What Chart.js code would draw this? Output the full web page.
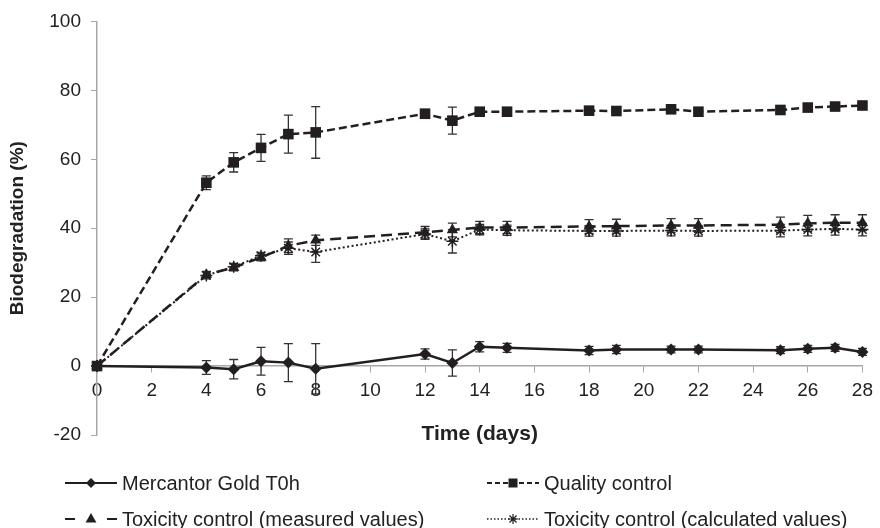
<!DOCTYPE html>
<html>
<head>
<meta charset="utf-8">
<script src="https://cdn.jsdelivr.net/npm/chart.js@4.4.0/dist/chart.umd.min.js"></script>
<style>
  html, body { margin: 0; padding: 0; background: #fff; }
  #wrap { width: 880px; height: 528px; }
</style>
</head>
<body>
<div id="wrap"><canvas id="biodegChart"></canvas></div>
<script>
// sampling days
const days = [0, 4, 5, 6, 7, 8, 12, 13, 14, 15, 18, 19, 21, 22, 25, 26, 27, 28];

// biodegradation (%) per series
const mercantor = [0, -0.4, -0.9, 1.4, 1.0, -0.8, 3.5, 0.9, 5.6, 5.3, 4.5, 4.8, 4.8, 4.8, 4.6, 5.0, 5.3, 4.1];
const qualityControl = [0, 53.2, 59.1, 63.3, 67.3, 67.8, 73.2, 71.2, 73.8, 73.8, 74.1, 74.0, 74.5, 73.8, 74.3, 75.0, 75.3, 75.6];
const toxMeasured = [0, 26.5, 28.6, 31.5, 34.9, 36.5, 38.8, 39.5, 40.2, 40.2, 40.5, 40.6, 40.8, 40.8, 41.0, 41.4, 41.6, 41.6];
const toxCalculated = [0, 26.3, 28.8, 32.0, 34.2, 33.1, 38.3, 36.2, 39.6, 39.4, 39.2, 39.2, 39.3, 39.2, 39.3, 39.6, 39.8, 39.6];

// error bars (+/-)
const mercantorErr = [0, 2, 2.8, 4, 5.5, 7.3, 1.5, 3.8, 1.5, 1.3, 1.2, 1.2, 1.0, 1.0, 1.0, 1.0, 1.0, 1.0];
const qualityErr = [0, 2, 2.8, 3.9, 5.5, 7.5, 1.3, 3.9, 1.2, 1.2, 1.0, 1.0, 0.8, 0.8, 0.8, 0.8, 0.8, 0.8];
const measuredErr = [0, 1, 1, 1, 2, 1.5, 1.7, 2, 1.8, 1.8, 2, 2, 2, 2, 2.2, 2.3, 2.3, 2.3];
const calculatedErr = [0, 1, 1, 1, 1.8, 3, 1.5, 3.4, 1.5, 1.5, 1.5, 1.5, 1.5, 1.5, 1.8, 1.8, 1.8, 1.8];

const seriesNames = ['Mercantor Gold T0h', 'Quality control', 'Toxicity control (measured values)', 'Toxicity control (calculated values)'];
const yTicks = [-20, 0, 20, 40, 60, 80, 100];

const INK = '#231f20';
const AXIS = '#a6a6a6';
const FONT = "'Liberation Sans', Arial, sans-serif";

function toPoints(values) {
    return days.map((d, i) => ({ x: d, y: values[i] }));
}

// draws the +/- bars under the markers
const errorBars = {
    id: 'errorBars',
    beforeDatasetsDraw(chart) {
        const ctx = chart.ctx;
        const xs = chart.scales.x, ys = chart.scales.y;
        chart.data.datasets.forEach((ds) => {
            if (!ds.errors) return;
            ctx.save();
            ctx.strokeStyle = '#333';
            ctx.lineWidth = 1.3;
            ds.data.forEach((p, i) => {
                const e = ds.errors[i];
                if (!e) return;
                const x = xs.getPixelForValue(p.x);
                const y1 = ys.getPixelForValue(p.y + e);
                const y2 = ys.getPixelForValue(p.y - e);
                ctx.beginPath();
                ctx.moveTo(x, y1); ctx.lineTo(x, y2);
                ctx.moveTo(x - 4.5, y1); ctx.lineTo(x + 4.5, y1);
                ctx.moveTo(x - 4.5, y2); ctx.lineTo(x + 4.5, y2);
                ctx.stroke();
            });
            ctx.restore();
        });
    }
};

function drawMarker(ctx, style, x, y, r) {
    ctx.beginPath();
    if (style === 'rectRot') {
        ctx.moveTo(x, y - r); ctx.lineTo(x + r, y); ctx.lineTo(x, y + r); ctx.lineTo(x - r, y);
        ctx.closePath(); ctx.fill();
    } else if (style === 'rect') {
        ctx.fillRect(x - r, y - r, 2 * r, 2 * r);
    } else if (style === 'triangle') {
        ctx.moveTo(x, y - r); ctx.lineTo(x + r * 0.9, y + r * 0.6); ctx.lineTo(x - r * 0.9, y + r * 0.6);
        ctx.closePath(); ctx.fill();
    } else {
        ctx.lineWidth = 1.2;
        ctx.setLineDash([]);
        for (let k = 0; k < 4; k++) {
            const a = k * Math.PI / 4;
            ctx.moveTo(x - r * Math.cos(a), y - r * Math.sin(a));
            ctx.lineTo(x + r * Math.cos(a), y + r * Math.sin(a));
        }
        ctx.stroke();
    }
}

// legend in two columns below the plot, line sample with marker
const bottomLegend = {
    id: 'bottomLegend',
    afterDraw(chart) {
        const ctx = chart.ctx;
        const items = [
            { col: 0, row: 0, style: 'rectRot', r: 5, dash: [], w: 2 },
            { col: 1, row: 0, style: 'rect', r: 4.5, dash: [5, 3], w: 2 },
            { col: 0, row: 1, style: 'triangle', r: 6, dash: 'split', w: 2 },
            { col: 1, row: 1, style: 'star', r: 5, dash: [1.5, 2], w: 1.5 }
        ];
        const colX = [65, 487];
        const rowY = [483, 519];
        ctx.save();
        items.forEach((it, i) => {
            const x0 = colX[it.col], x1 = x0 + 52, y = rowY[it.row];
            ctx.strokeStyle = INK;
            ctx.fillStyle = INK;
            ctx.lineWidth = it.w;
            ctx.beginPath();
            if (it.dash === 'split') {
                ctx.setLineDash([]);
                ctx.moveTo(x0, y); ctx.lineTo(x0 + 10, y);
                ctx.moveTo(x1 - 10, y); ctx.lineTo(x1, y);
            } else {
                ctx.setLineDash(it.dash);
                ctx.moveTo(x0, y); ctx.lineTo(x1, y);
            }
            ctx.stroke();
            ctx.setLineDash([]);
            drawMarker(ctx, it.style, (x0 + x1) / 2, y, it.r);
            ctx.fillStyle = '#222';
            ctx.font = '20px ' + FONT;
            ctx.textBaseline = 'middle';
            ctx.textAlign = 'left';
            ctx.fillText(seriesNames[i], x1 + 5, y + 1);
        });
        ctx.restore();
    }
};

const ctx = document.getElementById('biodegChart').getContext('2d');

new Chart(ctx, {
    type: 'line',
    data: {
        datasets: [
            {
                label: seriesNames[0],
                data: toPoints(mercantor),
                errors: mercantorErr,
                borderColor: INK,
                backgroundColor: INK,
                borderWidth: 2.5,
                pointStyle: 'rectRot',
                pointRadius: 6,
                pointBorderWidth: 0,
                clip: false
            },
            {
                label: seriesNames[1],
                data: toPoints(qualityControl),
                errors: qualityErr,
                borderColor: INK,
                backgroundColor: INK,
                borderWidth: 2.5,
                borderDash: [8, 4],
                pointStyle: 'rect',
                pointRadius: 7.5,
                pointBorderWidth: 0,
                clip: false
            },
            {
                label: seriesNames[2],
                data: toPoints(toxMeasured),
                errors: measuredErr,
                borderColor: INK,
                backgroundColor: INK,
                borderWidth: 2.5,
                borderDash: [11, 6],
                pointStyle: 'triangle',
                pointRadius: 6.5,
                pointBorderWidth: 0,
                clip: false
            },
            {
                label: seriesNames[3],
                data: toPoints(toxCalculated),
                errors: calculatedErr,
                borderColor: INK,
                backgroundColor: INK,
                borderWidth: 2,
                borderDash: [2, 2.5],
                pointStyle: 'star',
                pointRadius: 6,
                pointBorderWidth: 1.5,
                pointBorderColor: INK,
                clip: false
            }
        ]
    },
    options: {
        responsive: true,
        maintainAspectRatio: false,
        animation: false,
        layout: {
            padding: { top: 19, right: 12, bottom: 93, left: 0 }
        },
        elements: {
            line: { tension: 0 }
        },
        scales: {
            x: {
                type: 'linear',
                position: { y: 0 },
                min: 0,
                max: 28,
                ticks: {
                    stepSize: 2,
                    padding: 7,
                    color: '#222',
                    font: { family: FONT, size: 19 }
                },
                grid: {
                    drawOnChartArea: false,
                    drawTicks: true,
                    tickLength: 6,
                    color: AXIS
                },
                border: { color: AXIS, width: 1.5 },
                title: {
                    display: true,
                    text: 'Time (days)',
                    color: '#222',
                    font: { family: FONT, size: 21, weight: 'bold' },
                    padding: { top: 13, bottom: 0 }
                }
            },
            y: {
                min: -20,
                max: 100,
                afterBuildTicks: (scale) => {
                    scale.ticks = yTicks.map(v => ({ value: v }));
                },
                afterFit: (scale) => {
                    scale.width = 97;
                },
                ticks: {
                    padding: 10,
                    color: '#222',
                    font: { family: FONT, size: 19 }
                },
                grid: {
                    drawOnChartArea: false,
                    drawTicks: true,
                    tickLength: 6,
                    color: AXIS
                },
                border: { color: AXIS, width: 1.5 },
                title: {
                    display: true,
                    text: 'Biodegradation (%)',
                    color: '#222',
                    font: { family: FONT, size: 19, weight: 'bold' },
                    padding: { top: 6, bottom: 4 }
                }
            }
        },
        plugins: {
            legend: { display: false },
            tooltip: { enabled: false }
        }
    },
    plugins: [errorBars, bottomLegend]
});
</script>
</body>
</html>
